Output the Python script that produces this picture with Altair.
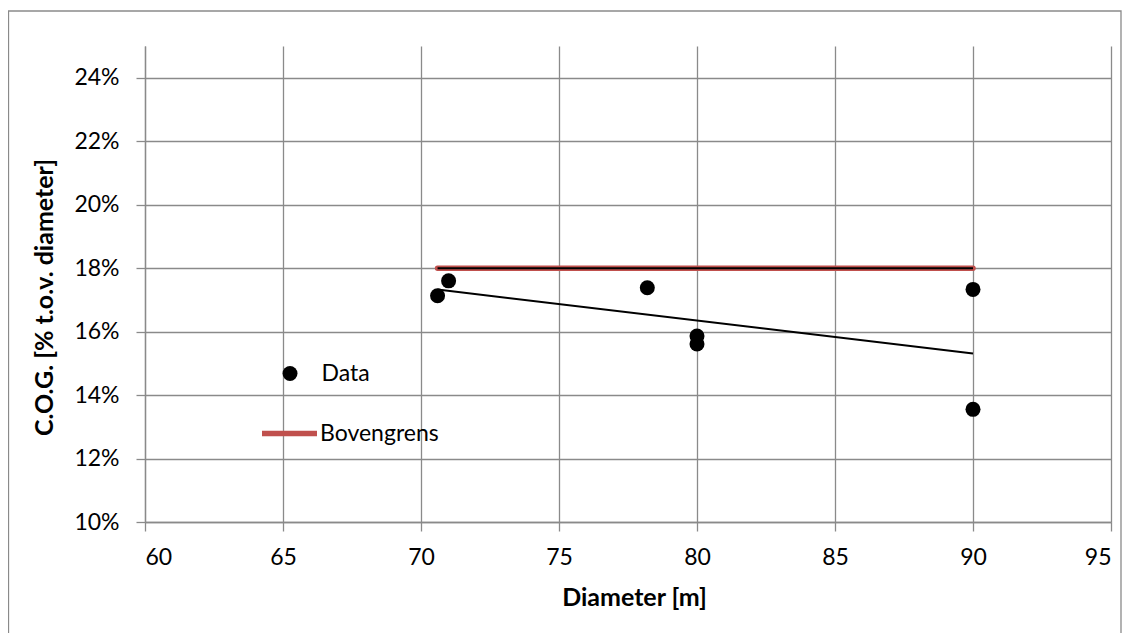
import altair as alt
import pandas as pd

# Data
diameter = [70.6, 71.0, 78.2, 80.0, 80.0, 90.0, 90.0]
cog = [0.1713, 0.1760, 0.1738, 0.1586, 0.1561, 0.1733, 0.1355]

bov_x = [70.6, 90.0]
bov_y = [0.18, 0.18]

x_ticks = [60, 65, 70, 75, 80, 85, 90, 95]
y_ticks = [0.10, 0.12, 0.14, 0.16, 0.18, 0.20, 0.22, 0.24]

FONT = "Lato"
GRID = "#8a8a8a"
RED = "#C0504D"

df_pts = pd.DataFrame({"x": diameter, "y": cog, "series": "Data"})
df_bov = pd.DataFrame({"x": bov_x, "y": bov_y, "series": "Bovengrens"})

x_scale = alt.Scale(domain=[60, 95], nice=False, zero=False)
y_scale = alt.Scale(domain=[0.10, 0.25], nice=False, zero=False)

x_axis = alt.Axis(
    values=x_ticks, title="Diameter [m]", grid=True, gridColor=GRID, gridWidth=1.3,
    domain=True, domainColor=GRID, domainWidth=1.3,
    ticks=True, tickSize=9, tickColor=GRID, tickWidth=1.3,
    labelFont=FONT, labelFontSize=23, labelColor="black", labelPadding=15,
    titleFont=FONT, titleFontSize=25, titleFontWeight="bold", titleColor="black",
    titleX=489, titleY=83, titleBaseline="alphabetic", titleAlign="center",
)
y_axis = alt.Axis(
    values=y_ticks, format=".0%", title="C.O.G. [% t.o.v. diameter]",
    grid=True, gridColor=GRID, gridWidth=1.3,
    domain=True, domainColor=GRID, domainWidth=1.3,
    ticks=True, tickSize=9, tickColor=GRID, tickWidth=1.3,
    labelFont=FONT, labelFontSize=23, labelColor="black", labelPadding=17,
    titleFont=FONT, titleFontSize=25, titleFontWeight="bold", titleColor="black",
    titleX=-101, titleY=251, titleAngle=270, titleBaseline="middle", titleAlign="center",
)

data_legend = alt.Legend(
    title=None, orient="none", legendX=133.5, legendY=316, padding=0,
    symbolType="circle", symbolSize=225, symbolFillColor="black",
    symbolStrokeWidth=0, symbolOpacity=1, labelOffset=20,
    labelFont=FONT, labelFontSize=23, labelColor="black",
)
bov_legend = alt.Legend(
    title=None, orient="none", legendX=114, legendY=357, padding=0,
    symbolType="stroke", symbolSize=3025, symbolStrokeColor=RED,
    symbolStrokeWidth=5.5, symbolOpacity=1, labelOffset=0,
    labelFont=FONT, labelFontSize=23, labelColor="black",
)

border = alt.Chart(pd.DataFrame({"a": [0]})).mark_rect(
    fill="transparent", stroke=GRID, strokeWidth=1.3
).encode(
    x=alt.value(-136.5), x2=alt.value(976), y=alt.value(-35), y2=alt.value(640)
)

bov_line = alt.Chart(df_bov).mark_line(
    color=RED, strokeWidth=5.5, strokeCap="round"
).encode(
    x=alt.X("x:Q", scale=x_scale, axis=x_axis),
    y=alt.Y("y:Q", scale=y_scale, axis=y_axis),
    strokeDash=alt.StrokeDash(
        "series:N",
        scale=alt.Scale(domain=["Bovengrens"], range=[[1, 0]]),
        legend=bov_legend,
    ),
)

bov_trend = alt.Chart(df_bov).transform_regression("x", "y").mark_line(
    color="black", strokeWidth=2
).encode(x=alt.X("x:Q", scale=x_scale), y=alt.Y("y:Q", scale=y_scale))

data_trend = alt.Chart(df_pts).transform_regression("x", "y").mark_line(
    color="black", strokeWidth=2
).encode(x=alt.X("x:Q", scale=x_scale), y=alt.Y("y:Q", scale=y_scale))

points = alt.Chart(df_pts).mark_circle(size=225, opacity=1).encode(
    x=alt.X("x:Q", scale=x_scale),
    y=alt.Y("y:Q", scale=y_scale),
    color=alt.Color(
        "series:N",
        scale=alt.Scale(domain=["Data"], range=["#000000"]),
        legend=data_legend,
    ),
)

chart = alt.layer(border, bov_line, bov_trend, data_trend, points).properties(
    width=966, height=476,
    autosize=alt.AutoSizeParams(type="none"),
    padding={"left": 137, "top": 38, "right": 12, "bottom": 111},
    background="white",
).configure_view(strokeWidth=0)

chart.save("out.html", embed_options={"renderer": "svg", "actions": False})
